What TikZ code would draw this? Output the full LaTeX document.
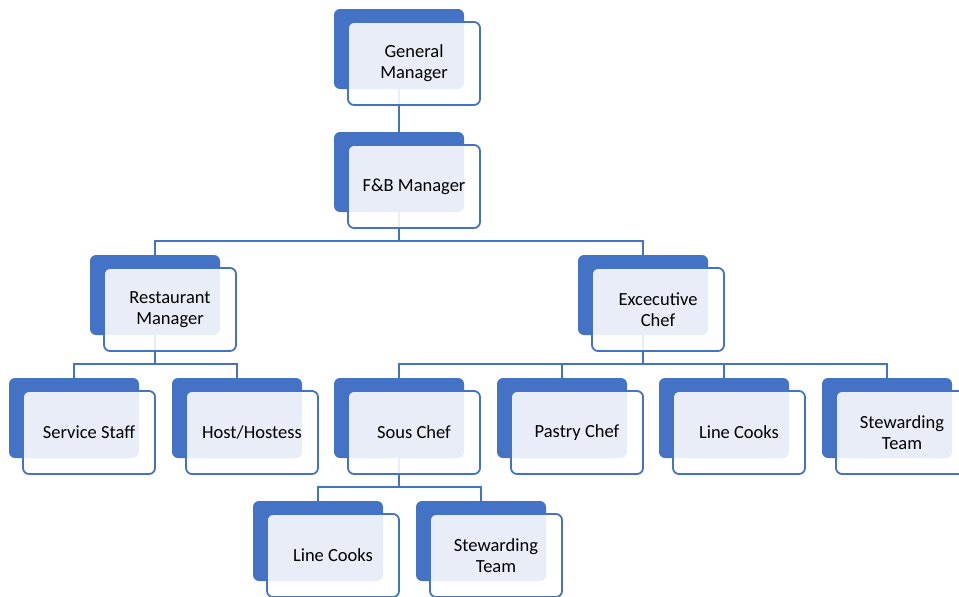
\documentclass[tikz,border=0pt]{standalone}
\usepackage{fontspec}
\setmainfont{Carlito}
\usetikzlibrary{backgrounds}
\definecolor{obl}{HTML}{4472C4}
\newcommand\orgbox[4]{%
  \node[backbox] (#1) at (#2+65,#3+40) {};
  \node[frontbox] (#1f) at (#2+80,#3+54.5) {#4};}
\begin{document}
\begin{tikzpicture}[x=1pt,y=-1pt,
  backbox/.style={fill=obl, rounded corners=6pt, minimum width=130pt, minimum height=80pt, inner sep=0pt, draw=none},
  frontbox/.style={fill=white, fill opacity=0.88, text opacity=1, draw=obl, line width=1.8pt, rounded corners=6pt, minimum width=132pt, minimum height=83pt, inner sep=0pt, align=center, font=\fontsize{18.5}{21}\selectfont},
  conn/.style={draw=obl, line width=1.8pt}]
\useasboundingbox (0,0) rectangle (959,597);
\clip (0,0) rectangle (959,597);
\orgbox{gm}{334}{9}{General\\Manager}
\orgbox{fb}{334}{132}{F\&B Manager}
\orgbox{rm}{90}{255}{Restaurant\\Manager}
\orgbox{ec}{578}{255}{Excecutive\\Chef}
\orgbox{ss}{9}{378}{Service Staff}
\orgbox{hh}{172}{378}{Host/Hostess}
\orgbox{sc}{334}{378}{Sous Chef}
\orgbox{pc}{497}{378}{Pastry Chef}
\orgbox{lc}{659}{378}{Line Cooks}
\orgbox{st}{822}{378}{Stewarding\\Team}
\orgbox{lcb}{253}{501}{Line Cooks}
\orgbox{stb}{416}{501}{Stewarding\\Team}
\begin{pgfonlayer}{background}
\draw[conn] (gm.south) -- (fb.north);
\draw[conn] (fb.south) -- ++(0,29) -| (rm.north);
\draw[conn] (fb.south) -- ++(0,29) -| (ec.north);
\draw[conn] (rm.south) -- ++(0,29) -| (ss.north);
\draw[conn] (rm.south) -- ++(0,29) -| (hh.north);
\draw[conn] (ec.south) -- ++(0,29) -| (sc.north);
\draw[conn] (ec.south) -- ++(0,29) -| (pc.north);
\draw[conn] (ec.south) -- ++(0,29) -| (lc.north);
\draw[conn] (ec.south) -- ++(0,29) -| (st.north);
\draw[conn] (sc.south) -- ++(0,29) -| (lcb.north);
\draw[conn] (sc.south) -- ++(0,29) -| (stb.north);
\end{pgfonlayer}
\end{tikzpicture}
\end{document}
